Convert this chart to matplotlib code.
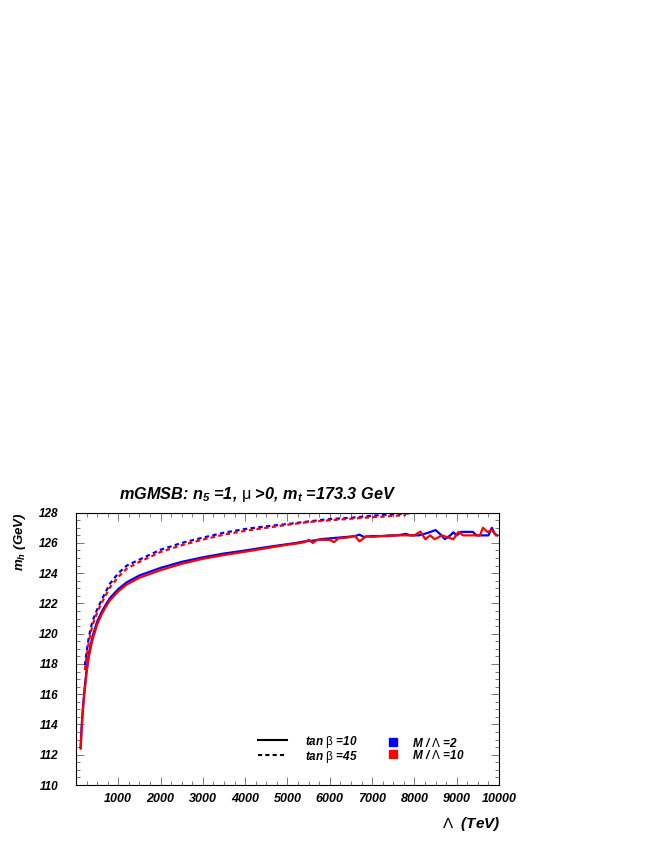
import matplotlib
matplotlib.use('Agg')
import matplotlib.pyplot as plt
from matplotlib.lines import Line2D
from matplotlib.ticker import MultipleLocator, FixedLocator

plt.rcParams['font.family'] = ['Liberation Sans', 'DejaVu Sans']
plt.rcParams['font.weight'] = 'bold'
plt.rcParams['font.style'] = 'italic'
plt.rcParams['mathtext.fontset'] = 'custom'
plt.rcParams['mathtext.rm'] = 'Liberation Sans:bold:italic'
plt.rcParams['mathtext.it'] = 'Liberation Sans:bold:italic'
plt.rcParams['mathtext.sf'] = 'Liberation Sans:style=normal:weight=normal'

# tan(beta)=10, M/Lambda=2 (blue solid)
lam_10_m2 = [110, 130, 150, 175, 200, 250, 300, 350, 400, 500, 600, 700, 800, 1000, 1200,
             1500, 2000, 2500, 3000, 3500, 4000, 4500, 5000, 5200, 5400, 5600, 5800, 6000,
             6200, 6400, 6600, 6700, 6800, 7000, 7200, 7400, 7600, 7800, 7900, 8100, 8300,
             8500, 8600, 8720, 8850, 8920, 9000, 9100, 9380, 9470, 9750, 9830, 9900, 9960]
mh_10_m2 = [112.5, 113.7, 114.6, 115.5, 116.3, 117.6, 118.6, 119.3, 119.9, 120.8, 121.4, 121.9,
            122.35, 122.95, 123.4, 123.85, 124.35, 124.75, 125.05, 125.3, 125.5, 125.72, 125.92,
            126.0, 126.1, 126.15, 126.25, 126.3, 126.35, 126.4, 126.45, 126.55, 126.4, 126.45,
            126.45, 126.5, 126.5, 126.6, 126.5, 126.5, 126.65, 126.85, 126.6, 126.25, 126.5,
            126.7, 126.5, 126.73, 126.73, 126.5, 126.5, 127.0, 126.6, 126.5]

# tan(beta)=10, M/Lambda=10 (red solid)
lam_10_m10 = [110, 130, 150, 175, 200, 250, 300, 350, 400, 500, 600, 700, 800, 1000, 1200,
              1500, 2000, 2500, 3000, 3500, 4000, 4500, 5000, 5200, 5400, 5500, 5600, 5700,
              6000, 6100, 6200, 6400, 6600, 6700, 6870, 7000, 7200, 7400, 7600, 8000, 8140,
              8260, 8370, 8480, 8650, 8920, 9040, 9150, 9550, 9620, 9730, 9830, 9930]
mh_10_m10 = [112.4, 113.5, 114.4, 115.3, 116.1, 117.4, 118.4, 119.1, 119.7, 120.6, 121.25, 121.75,
             122.2, 122.8, 123.25, 123.7, 124.2, 124.62, 124.95, 125.2, 125.42, 125.65, 125.88,
             125.95, 126.05, 126.2, 126.0, 126.2, 126.2, 126.05, 126.3, 126.35, 126.45, 126.1,
             126.45, 126.4, 126.45, 126.45, 126.5, 126.5, 126.75, 126.24, 126.5, 126.24, 126.5,
             126.24, 126.73, 126.5, 126.5, 127.0, 126.72, 126.85, 126.5]

# tan(beta)=45, M/Lambda=2 (blue dashed)
lam_45_m2 = [210, 250, 300, 350, 400, 500, 600, 800, 1000, 1200, 1500, 2000, 2500, 3000,
             3500, 4000, 4500, 5000, 5500, 6000, 6500, 7000, 7500, 7800, 8000]
mh_45_m2 = [117.9, 118.8, 119.7, 120.4, 120.9, 121.6, 122.2, 123.3, 124.0, 124.5, 124.9, 125.55,
            126.0, 126.35, 126.68, 126.92, 127.1, 127.25, 127.42, 127.58, 127.66, 127.8, 127.9,
            127.95, 127.98]

# tan(beta)=45, M/Lambda=10 (red dashed)
lam_45_m10 = [210, 250, 300, 350, 400, 500, 600, 800, 1000, 1200, 1500, 2000, 2500, 3000,
              3500, 4000, 4500, 5000, 5500, 6000, 6500, 7000, 7500, 7800]
mh_45_m10 = [117.6, 118.5, 119.4, 120.1, 120.65, 121.4, 122.0, 123.05, 123.75, 124.3, 124.75,
             125.4, 125.85, 126.22, 126.55, 126.8, 127.0, 127.2, 127.38, 127.5, 127.6, 127.7,
             127.78, 127.85]

x_ticks = [1000, 2000, 3000, 4000, 5000, 6000, 7000, 8000, 9000, 10000]

fig = plt.figure(figsize=(6.54, 8.46), dpi=100)
ax = fig.add_axes([0.1162, 0.0721, 0.6468, 0.3219])

dash = (0, (2.0, 1.5))
ax.plot(lam_10_m2, mh_10_m2, color='#0000ff', lw=1.6)
ax.plot(lam_10_m10, mh_10_m10, color='#ff0000', lw=1.6)
ax.plot(lam_45_m2, mh_45_m2, color='#0000ff', lw=1.6, ls=dash)
ax.plot(lam_45_m10, mh_45_m10, color='#ff0000', lw=1.6, ls=dash)

ax.set_xlim(0, 10000)
ax.set_ylim(110, 128)
ax.xaxis.set_major_locator(FixedLocator(x_ticks))
ax.xaxis.set_minor_locator(MultipleLocator(250))
ax.yaxis.set_major_locator(MultipleLocator(2))
ax.yaxis.set_minor_locator(MultipleLocator(0.5))
ax.tick_params(which='both', direction='in', top=True, right=True, width=0.5, color='#444444')
ax.tick_params(which='major', length=6)
ax.tick_params(which='minor', length=3)
ax.tick_params(axis='x', labelsize=9, pad=5.5)
ax.tick_params(axis='y', labelsize=8.5, pad=13)
for sp in ax.spines.values():
    sp.set_linewidth(0.8)

# axis titles
fig.text(0.031, 0.394, r"m$_h$ (GeV)", rotation=90, ha='center', va='top', fontsize=9.5)
fig.text(0.765, 0.026, r"$\mathsf{\Lambda}$  (TeV)", ha='right', va='center', fontsize=11)
fig.text(0.182, 0.415, r"mGMSB: n$_5$ =1, $\mathsf{\mu}$ >0, m$_t$ =173.3 GeV",
         ha='left', va='center', fontsize=11.7)

# legends
h_lines = [Line2D([], [], color='black', lw=1.5),
           Line2D([], [], color='black', lw=1.5, ls=dash)]
leg1 = ax.legend(h_lines, [r"tan $\mathsf{\beta}$ =10", r"tan $\mathsf{\beta}$ =45"],
                 loc='center left', bbox_to_anchor=(0.43, 0.132), frameon=False,
                 fontsize=8.5, handlelength=2.45, handletextpad=1.5, labelspacing=-0.08,
                 borderpad=0, borderaxespad=0)
ax.add_artist(leg1)
h_sq = [Line2D([], [], color='#0000ff', marker='s', ms=6, ls='none'),
        Line2D([], [], color='#ff0000', marker='s', ms=6, ls='none')]
ax.legend(h_sq, [r"M / $\mathsf{\Lambda}$ =2", r"M / $\mathsf{\Lambda}$ =10"],
          loc='center left', bbox_to_anchor=(0.735, 0.132), frameon=False,
          fontsize=8.5, handlelength=1.0, handletextpad=1.1, labelspacing=-0.08,
          borderpad=0, borderaxespad=0)

plt.savefig('out.png', dpi=100)
